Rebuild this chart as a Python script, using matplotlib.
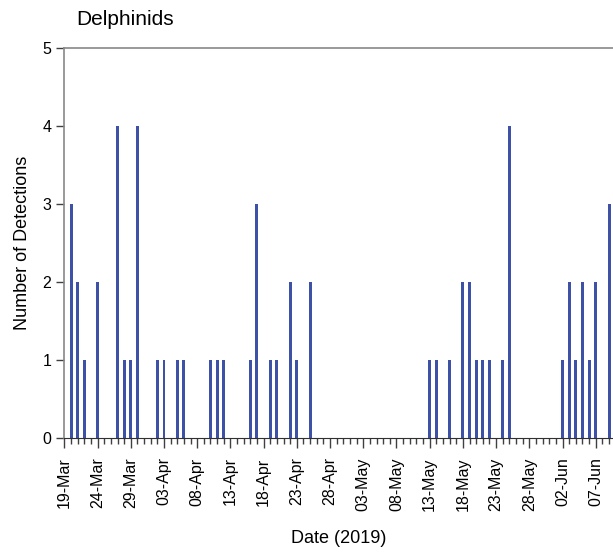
import numpy as np
import pandas as pd
import matplotlib
matplotlib.use('Agg')
import matplotlib.pyplot as plt
import matplotlib.dates as mdates

plt.rcParams['font.family'] = ['Liberation Sans', 'DejaVu Sans']

# days with detections and their counts
det_dates = ['2019-03-20', '2019-03-21', '2019-03-22', '2019-03-24', '2019-03-27',
             '2019-03-28', '2019-03-29', '2019-03-30', '2019-04-02', '2019-04-03',
             '2019-04-05', '2019-04-06', '2019-04-10', '2019-04-11', '2019-04-12',
             '2019-04-16', '2019-04-17', '2019-04-19', '2019-04-20', '2019-04-22',
             '2019-04-23', '2019-04-25', '2019-05-13', '2019-05-14', '2019-05-16',
             '2019-05-18', '2019-05-19', '2019-05-20', '2019-05-21', '2019-05-22',
             '2019-05-24', '2019-05-25', '2019-06-02', '2019-06-03', '2019-06-04',
             '2019-06-05', '2019-06-06', '2019-06-07', '2019-06-09']
det_counts = [3, 2, 1, 2, 4,
              1, 1, 4, 1, 1,
              1, 1, 1, 1, 1,
              1, 3, 1, 1, 2,
              1, 2, 1, 1, 1,
              2, 2, 1, 1, 1,
              1, 4, 1, 2, 1,
              2, 1, 2, 3]

start = pd.Timestamp('2019-03-19')
end = pd.Timestamp('2019-06-09')

series = pd.Series(det_counts, index=pd.to_datetime(det_dates))
days = pd.date_range(start, end, freq='D')
series = series.reindex(days, fill_value=0)

fig = plt.figure(figsize=(6.13, 5.52), dpi=100)
ax = fig.add_axes([0.105, 0.2065, 0.895, 0.7065])

ax.bar(series.index, series.values, width=0.45, color='#3d52a6')

ax.set_ylim(0, 5)
ax.set_xlim(mdates.date2num(start), mdates.date2num(start) + 82.6)
ax.set_yticks(range(0, 6))

major = pd.date_range(start, end, freq='5D')
ax.set_xticks(mdates.date2num(major))
ax.set_xticklabels([d.strftime('%d-%b') for d in major], rotation=90)
ax.set_xticks(mdates.date2num(days), minor=True)

ax.tick_params(axis='x', which='major', length=7, width=1, color='#404040',
               labelsize=11.5, pad=7)
ax.tick_params(axis='x', which='minor', length=4, width=1, color='#404040')
ax.tick_params(axis='y', length=6, width=1, color='#404040', labelsize=11.5)

for side in ['left', 'top']:
    ax.spines[side].set_color('#888888')
    ax.spines[side].set_linewidth(1.2)
ax.spines['bottom'].set_color('#303030')
ax.spines['right'].set_visible(False)

ax.set_ylabel('Number of Detections', fontsize=13, labelpad=8)
ax.set_xlabel('Date (2019)', fontsize=13, labelpad=14)
fig.text(0.124, 0.965, 'Delphinids', fontsize=15, ha='left', va='center')

fig.savefig('out.png', dpi=100)
